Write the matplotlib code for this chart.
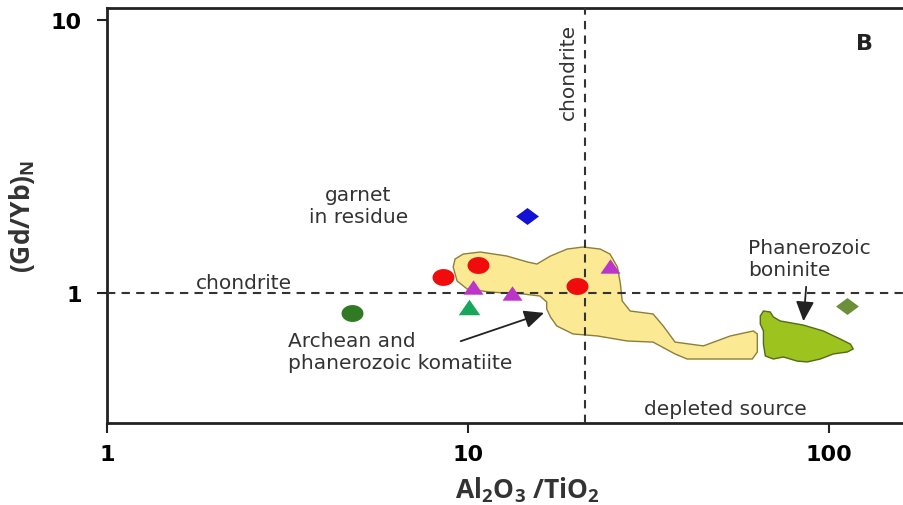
import numpy as np
import matplotlib
matplotlib.use("Agg")
import matplotlib.pyplot as plt
from matplotlib.path import Path

plt.rcParams['mathtext.default'] = 'regular'

# --- data (Al2O3/TiO2 vs (Gd/Yb)N) ---
green_circle_x = [4.77]
green_circle_y = [0.845]
red_circle_x = [8.52, 10.66, 20.0]
red_circle_y = [1.144, 1.266, 1.061]
magenta_tri_x = [10.33, 13.24, 24.7]
magenta_tri_y = [1.052, 1.0, 1.256]
green_tri_x = [10.06]
green_tri_y = [0.889]
blue_dia_x = [14.57]
blue_dia_y = [1.913]
olive_dia_x = [112.2]
olive_dia_y = [0.896]

# komatiite field outline
komatiite_x = [9.09, 9.20, 9.69, 10.8, 12.8, 14.6, 15.5, 16.9, 18.8, 20.8,
               23.2, 24.7, 25.9, 26.4, 26.7, 28.1, 32.5, 34.7, 37.4, 44.8,
               53.2, 61.6, 63.2, 63.2, 61.2, 40.4, 37.4, 32.5, 27.6, 22.8,
               19.5, 17.6, 16.9, 16.5, 16.5, 15.8, 14.2, 11.5, 9.94, 9.32]
komatiite_y = [1.245, 1.332, 1.389, 1.413, 1.366, 1.299, 1.277, 1.366, 1.449, 1.474,
               1.449, 1.389, 1.245, 1.079, 0.935, 0.859, 0.838, 0.757, 0.661, 0.640,
               0.696, 0.726, 0.708, 0.608, 0.573, 0.573, 0.598, 0.661, 0.667, 0.696,
               0.708, 0.757, 0.817, 0.874, 0.927, 0.975, 0.992, 1.008, 1.034, 1.106]

# boninite field outline
boninite_x = [64.4, 65.7, 68.6, 70.0, 73.1, 84.7, 96.2, 107.3, 114.4, 116.5,
              112.2, 102.6, 94.4, 86.9, 81.5, 74.6, 70.0, 66.5, 65.7, 65.7, 64.4]
boninite_y = [0.824, 0.859, 0.852, 0.817, 0.790, 0.763, 0.726, 0.678, 0.650, 0.624,
              0.608, 0.598, 0.573, 0.559, 0.563, 0.583, 0.573, 0.588, 0.650, 0.726, 0.770]

chondrite_x = 21.1
chondrite_y = 1.0

# markers (the reference is stretched sideways, so shapes are wider than tall)
t = np.linspace(0, 2 * np.pi, 60)
ellipse = Path(np.c_[1.3 * np.cos(t), np.sin(t)], closed=True)
triangle = Path([(-1, -0.72), (1, -0.72), (0, 0.72), (-1, -0.72)], closed=True)
diamond = Path([(-1, 0), (0, 0.74), (1, 0), (0, -0.74), (-1, 0)], closed=True)

fig = plt.figure(figsize=(9.04, 5.06), dpi=100)
ax = fig.add_axes([0.11836, 0.16206, 0.88164, 0.82015])
ax.set_xscale('log')
ax.set_yscale('log')
ax.set_xlim(1, 161)
ax.set_ylim(0.334, 11.07)

# fields
ax.fill(komatiite_x, komatiite_y, facecolor='#fbe993', edgecolor='#8c7f3c', lw=1.0, zorder=2)
ax.fill(boninite_x, boninite_y, facecolor='#9cc31e', edgecolor='#56691a', lw=1.0, zorder=2)

# chondrite reference lines
ax.axhline(chondrite_y, color='#333333', lw=1.5, ls=(0, (4, 3)), zorder=3)
ax.axvline(chondrite_x, color='#333333', lw=1.5, ls=(0, (4, 3)), zorder=3)

# samples
ax.plot(green_circle_x, green_circle_y, ls='none', marker=ellipse, ms=15.8, color='#2f7a22', mec='none', zorder=4)
ax.plot(red_circle_x, red_circle_y, ls='none', marker=ellipse, ms=15.8, color='#f00c0c', mec='none', zorder=4)
ax.plot(magenta_tri_x, magenta_tri_y, ls='none', marker=triangle, ms=14.4, color='#bb35c8', mec='none', zorder=4)
ax.plot(green_tri_x, green_tri_y, ls='none', marker=triangle, ms=15.5, color='#17a65a', mec='none', zorder=4)
ax.plot(blue_dia_x, blue_dia_y, ls='none', marker=diamond, ms=16.5, color='#1212d6', mec='none', zorder=4)
ax.plot(olive_dia_x, olive_dia_y, ls='none', marker=diamond, ms=16.5, color='#6b8f3b', mec='none', zorder=4)

# annotations
txt = dict(fontsize=14.5, color='#333333', family='DejaVu Sans')
ax.text(4.96, 2.10, 'garnet\nin residue', ha='center', va='center', linespacing=1.2, **txt)
ax.text(2.40, 1.097, 'chondrite', ha='center', va='center', **txt)
ax.text(18.9, 6.51, 'chondrite', ha='center', va='center', rotation=90, **txt)
ax.text(3.17, 0.613, 'Archean and\nphanerozoic komatiite', ha='left', va='center', linespacing=1.2, **txt)
ax.text(59.7, 1.343, 'Phanerozoic\nboninite', ha='left', va='center', linespacing=1.2, **txt)
ax.text(51.5, 0.376, 'depleted source', ha='center', va='center', **txt)
ax.text(0.951, 0.916, 'B', transform=ax.transAxes, ha='center', va='center',
        fontsize=16, fontweight='bold', color='#222222')

arrow = dict(arrowstyle='-|>,head_length=1.2,head_width=0.55', color='#222222', lw=1.3)
ax.annotate('', xy=(16.5, 0.852), xytext=(9.38, 0.661), arrowprops=arrow, zorder=5)
ax.annotate('', xy=(84.7, 0.770), xytext=(86.4, 1.079), arrowprops=arrow, zorder=5)

# axes styling
ax.set_xticks([1, 10, 100])
ax.set_xticklabels(['1', '10', '100'])
ax.set_yticks([1, 10])
ax.set_yticklabels(['1', '10'])
ax.minorticks_off()
ax.tick_params(direction='out', length=7, width=1.5, color='#222222', labelsize=16)
ax.tick_params(axis='x', pad=8)
ax.tick_params(axis='y', pad=11)
for lab in ax.get_xticklabels() + ax.get_yticklabels():
    lab.set_fontweight('bold')
for side in ['left', 'bottom', 'top']:
    ax.spines[side].set_linewidth(2)
    ax.spines[side].set_color('#222222')
ax.spines['right'].set_visible(False)

ax.set_xlabel(r'Al$_2$O$_3$ /TiO$_2$', fontsize=19, fontweight='bold', family='Open Sans',
              color='#333333', va='center')
ax.xaxis.set_label_coords(0.527, -0.159)
ax.set_ylabel(r'(Gd/Yb)$_N$', fontsize=19, fontweight='bold', family='Open Sans',
              color='#333333', va='center')
ax.yaxis.set_label_coords(-0.107, 0.501)

fig.savefig('out.png', dpi=100)
